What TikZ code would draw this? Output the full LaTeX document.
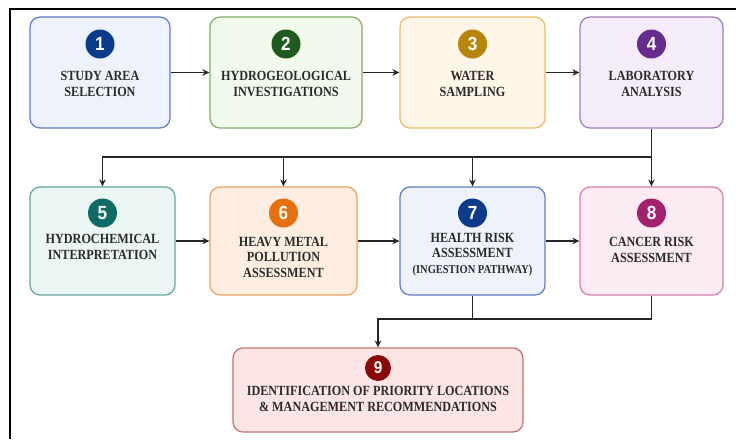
\documentclass[tikz,border=0pt]{standalone}
\usepackage{fontspec}
\setmainfont{Liberation Serif}
\newfontfamily\labfont[FakeStretch=0.87]{Liberation Serif}
\newfontfamily\numfont[FakeStretch=0.9]{Liberation Sans}
\usetikzlibrary{arrows.meta}
\definecolor{txt}{HTML}{2B2B2B}
\definecolor{fA}{HTML}{EEF2FB}\definecolor{dA}{HTML}{5E7CC8}\definecolor{cA}{HTML}{0B3C8C}
\definecolor{fB}{HTML}{F1F8EC}\definecolor{dB}{HTML}{7FB062}\definecolor{cB}{HTML}{1F5A1F}
\definecolor{fC}{HTML}{FFF6E7}\definecolor{dC}{HTML}{EDBA66}\definecolor{cC}{HTML}{B8860B}
\definecolor{fD}{HTML}{F4ECF8}\definecolor{dD}{HTML}{A07DB8}\definecolor{cD}{HTML}{682C8E}
\definecolor{fE}{HTML}{EBF5F4}\definecolor{dE}{HTML}{62A69F}\definecolor{cE}{HTML}{0E6B66}
\definecolor{fF}{HTML}{FDEEE1}\definecolor{dF}{HTML}{EFA163}\definecolor{cF}{HTML}{E8700C}
\definecolor{fH}{HTML}{FCEBF3}\definecolor{dH}{HTML}{D77FAD}\definecolor{cH}{HTML}{A3206F}
\definecolor{fI}{HTML}{FBE5E5}\definecolor{dI}{HTML}{C47272}\definecolor{cI}{HTML}{8A0A0A}
\begin{document}
\begin{tikzpicture}[x=1pt,y=-1pt,
  stagebox/.style={draw=#1, line width=1.2pt, rounded corners=10pt, inner sep=0pt},
  numdot/.style={circle, fill=#1, minimum size=29pt, inner sep=0pt, text=white, font=\numfont\bfseries\fontsize{19}{19}\selectfont},
  label/.style={text=txt, align=center, inner sep=0pt, font=\labfont\bfseries\fontsize{14}{15.5}\selectfont},
  flow/.style={line width=1.2pt, draw=black!85},
  arr/.style={flow, -{Stealth[length=7pt,width=6.5pt]}}
]
\useasboundingbox (0,0) rectangle (736,439);
\fill[white] (0,0) rectangle (736,439);
\draw[line width=2pt] (9.5,439) -- (9.5,8.5) -- (736,8.5);

% row 1
\node[stagebox=dA, fill=fA, minimum width=140pt, minimum height=111pt] (b1) at (100,72.5) {};
\node[stagebox=dB, fill=fB, minimum width=152pt, minimum height=111pt] (b2) at (286,72.5) {};
\node[stagebox=dC, fill=fC, minimum width=145pt, minimum height=111pt] (b3) at (472.5,72.5) {};
\node[stagebox=dD, fill=fD, minimum width=143pt, minimum height=111pt] (b4) at (651.5,72.5) {};
% row 2
\node[stagebox=dE, fill=fE, minimum width=145pt, minimum height=108pt] (b5) at (102.5,241) {};
\node[stagebox=dF, fill=fF, minimum width=147pt, minimum height=108pt] (b6) at (283.5,241) {};
\node[stagebox=dA, fill=fA, minimum width=145pt, minimum height=108pt] (b7) at (472.5,241) {};
\node[stagebox=dH, fill=fH, minimum width=143pt, minimum height=108pt] (b8) at (651.5,241) {};
% row 3
\node[stagebox=dI, fill=fI, minimum width=290pt, minimum height=84pt] (b9) at (378,390) {};

% number circles
\node[numdot=cA] (c1) at (100,44) {1};
\node[numdot=cB] (c2) at (286,44) {2};
\node[numdot=cC] (c3) at (472.5,44) {3};
\node[numdot=cD] (c4) at (651.5,44) {4};
\node[numdot=cE] (c5) at (102.5,213) {5};
\node[numdot=cF] (c6) at (283.5,213) {6};
\node[numdot=cA] (c7) at (472.5,213) {7};
\node[numdot=cH] (c8) at (651.5,213) {8};
\node[numdot=cI, minimum size=26pt, font=\numfont\bfseries\fontsize{17}{17}\selectfont] (c9) at (378,368) {9};

% labels
\node[label] (t1) at (100,84) {STUDY AREA\\SELECTION};
\node[label] (t2) at (286,84) {HYDROGEOLOGICAL\\INVESTIGATIONS};
\node[label] (t3) at (472.5,84) {WATER\\SAMPLING};
\node[label] (t4) at (651.5,84) {LABORATORY\\ANALYSIS};
\node[label] (t5) at (102.5,247) {HYDROCHEMICAL\\INTERPRETATION};
\node[label] (t6) at (283.5,257) {HEAVY METAL\\POLLUTION\\ASSESSMENT};
\node[label] (t7) at (472.5,254.5) {HEALTH RISK\\ASSESSMENT\\{\fontsize{12}{15.5}\selectfont(INGESTION PATHWAY)}};
\node[label] (t8) at (651.5,250) {CANCER RISK\\ASSESSMENT};
\node[label] (t9) at (378,399) {IDENTIFICATION OF PRIORITY LOCATIONS\\\& MANAGEMENT RECOMMENDATIONS};

% connectors row 1
\draw[arr] (b1.east) -- (b2.west);
\draw[arr] (b2.east) -- (b3.west);
\draw[arr] (b3.east) -- (b4.west);
% distribution from 4
\coordinate (j) at (651.5,157);
\draw[flow] (b4.south) -- (j);
\draw[arr] (j) -- (b8.north);
\draw[arr] (j) -| (b5.north);
\draw[arr] (b6.north |- j) -- (b6.north);
\draw[arr] (b7.north |- j) -- (b7.north);
% row 2
\draw[arr] (b5.east) -- (b6.west);
\draw[arr] (b6.east) -- (b7.west);
\draw[arr] (b7.east) -- (b8.west);
% to 9
\coordinate (k) at (472.5,319);
\draw[flow] (b7.south) -- (k);
\draw[flow] (b8.south) |- (k);
\draw[arr] (k) -| (b9.north);
\end{tikzpicture}
\end{document}
